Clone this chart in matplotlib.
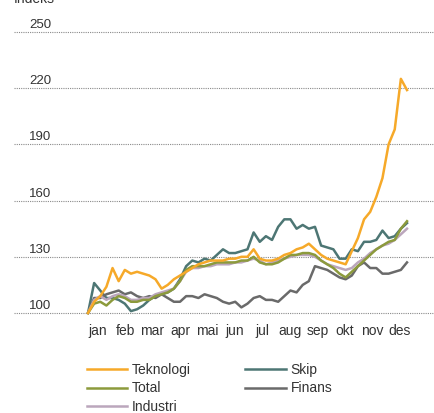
import matplotlib
matplotlib.use("Agg")
import matplotlib.pyplot as plt
import matplotlib.transforms as mtransforms

plt.rcParams['font.family'] = ['Liberation Sans', 'DejaVu Sans']

# weekly observations (week 0 .. 52)
weeks = list(range(53))

teknologi = [100, 106, 109, 114, 124, 117, 123, 121, 122, 121, 120, 118, 113, 115, 118, 120,
             122, 124, 126, 127, 128, 128, 128, 129, 129, 130, 130, 134, 129, 128, 128, 129,
             131, 132, 134, 135, 137, 134, 131, 129, 128, 127, 126, 133, 140, 150, 154, 162,
             172, 190, 198, 225, 219]
total = [100, 105, 106, 104, 107, 109, 108, 106, 106, 107, 107, 109, 110, 111, 113, 117,
         123, 125, 125, 125, 126, 127, 127, 127, 127, 128, 128, 130, 127, 126, 126, 127,
         129, 131, 131, 132, 132, 131, 128, 126, 124, 121, 119, 122, 125, 128, 131, 134,
         136, 138, 139, 145, 149]
industri = [100, 107, 109, 107, 109, 110, 109, 107, 107, 108, 108, 110, 111, 112, 113, 117,
            122, 124, 124, 125, 125, 126, 126, 126, 127, 127, 128, 129, 128, 126, 127, 128,
            129, 130, 131, 131, 131, 130, 128, 126, 125, 124, 123, 124, 127, 129, 132, 134,
            136, 137, 139, 142, 145]
skip = [100, 116, 112, 108, 108, 107, 105, 101, 102, 104, 107, 109, 110, 111, 113, 118,
        125, 128, 127, 129, 128, 131, 134, 132, 132, 133, 134, 143, 138, 141, 139, 146,
        150, 150, 145, 147, 145, 146, 136, 135, 134, 129, 129, 134, 133, 138, 138, 139,
        144, 140, 141, 145, 148]
finans = [100, 108, 108, 110, 111, 112, 110, 111, 109, 108, 109, 108, 110, 108, 106, 106,
          109, 109, 108, 110, 109, 108, 106, 105, 106, 103, 105, 108, 109, 107, 107, 106,
          109, 112, 111, 115, 117, 125, 124, 123, 121, 119, 118, 120, 125, 127, 124, 124,
          121, 121, 122, 123, 127]

months = ["jan", "feb", "mar", "apr", "mai", "jun", "jul", "aug", "sep", "okt", "nov", "des"]
yticks = [100, 130, 160, 190, 220, 250]

series = [
    ("Teknologi", teknologi, "#F6A929"),
    ("Total", total, "#8C9A3C"),
    ("Industri", industri, "#BBA6BC"),
    ("Skip", skip, "#4D7674"),
    ("Finans", finans, "#6A6A6A"),
]

W, H = 434, 413
fig = plt.figure(figsize=(W / 100, H / 100), dpi=100)
ax = fig.add_axes([14 / W, 1 - 313 / H, 420 / W, 281 / H])

px_per_week = 319 / 52
xmin = -74 / px_per_week
ax.set_xlim(xmin, xmin + 420 / px_per_week)
ax.set_ylim(100, 250)

draw_order = [3, 4, 2, 1, 0]
handles = {}
for i in draw_order:
    name, vals, col = series[i]
    ln, = ax.plot(weeks, vals, color=col, lw=1.8, clip_on=False, label=name,
                  solid_joinstyle='round', zorder=3 + (i == 0))
    handles[name] = ln

for s in ax.spines.values():
    s.set_visible(False)

# grid lines
for v in yticks:
    ax.axhline(v, color="#8a8a8a", lw=0.8, ls=(0, (1, 1)), zorder=1, clip_on=False)
ax.set_yticks([])
ylab_tr = mtransforms.blended_transform_factory(fig.transFigure, ax.transData)
for v in yticks:
    ax.text(29 / W, v + 0.5, str(v), transform=ylab_tr, ha="left", va="bottom",
            fontsize=9.5, color="#333333")

# month ticks
month_px = [97.5 + 27.5 * i for i in range(12)]
ax.set_xticks([(p - 88) / px_per_week for p in month_px])
ax.set_xticklabels(months, fontsize=10, color="#333333")
ax.tick_params(axis="x", length=0, pad=8)

fig.text(14 / W, 1 - 3 / H, "Indeks", fontsize=10, color="#333333", ha="left", va="baseline")

order = ["Teknologi", "Total", "Industri", "Skip", "Finans"]
leg = fig.legend([handles[n] for n in order], order, loc="upper left",
                 bbox_to_anchor=(87 / W, 1 - 363 / H), bbox_transform=fig.transFigure,
                 ncol=2, frameon=False, fontsize=10, handlelength=2.9, handletextpad=0.35,
                 columnspacing=3.9, labelspacing=0.32, borderpad=0, borderaxespad=0)
for t in leg.get_texts():
    t.set_color("#333333")

fig.savefig("out.png", dpi=100)
